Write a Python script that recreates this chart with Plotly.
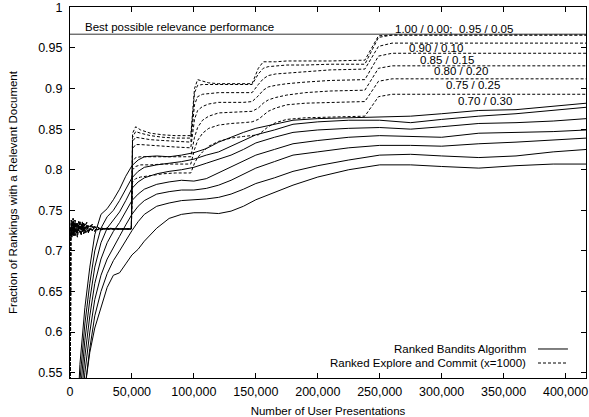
import plotly.graph_objects as go

# ---------------- data ----------------
X_TICKS = [0, 50000, 100000, 150000, 200000, 250000, 300000, 350000, 400000]
X_TICK_LABELS = ["0", "50,000", "100,000", "150,000", "200,000", "250,000", "300,000", "350,000", "400,000"]
Y_TICKS = [0.55, 0.6, 0.65, 0.7, 0.75, 0.8, 0.85, 0.9, 0.95, 1.0]
Y_TICK_LABELS = ["0.55", "0.6", "0.65", "0.7", "0.75", "0.8", "0.85", "0.9", "0.95", "1"]

BEST_POSSIBLE = 0.967

# Ranked Bandits Algorithm (solid lines)
RBA_X = [0, 8000, 12000, 16000, 20000, 25000, 30000, 35000, 40000, 45000, 50000, 55000, 60000,
         70000, 80000, 90000, 100000, 110000, 120000, 130000, 140000, 150000, 165000, 180000,
         200000, 225000, 250000, 275000, 300000, 330000, 360000, 390000, 417000]
RBA_100 = [0.30, 0.56, 0.63, 0.68, 0.72, 0.745, 0.752, 0.763, 0.776, 0.792, 0.805, 0.812, 0.816, 0.817, 0.816, 0.818, 0.821, 0.826, 0.834, 0.840, 0.846, 0.851, 0.856, 0.861, 0.863, 0.864, 0.865, 0.866, 0.869, 0.873, 0.874, 0.878, 0.882]
RBA_095 = [0.28, 0.54, 0.61, 0.66, 0.70, 0.728, 0.742, 0.750, 0.762, 0.777, 0.790, 0.798, 0.803, 0.806, 0.808, 0.810, 0.813, 0.818, 0.822, 0.829, 0.836, 0.843, 0.849, 0.856, 0.859, 0.861, 0.861, 0.858, 0.862, 0.866, 0.869, 0.873, 0.877]
RBA_090 = [0.26, 0.52, 0.59, 0.64, 0.68, 0.71, 0.728, 0.738, 0.748, 0.762, 0.777, 0.785, 0.790, 0.795, 0.798, 0.800, 0.803, 0.808, 0.813, 0.818, 0.825, 0.833, 0.840, 0.846, 0.849, 0.851, 0.852, 0.850, 0.853, 0.857, 0.858, 0.860, 0.863]
RBA_085 = [0.24, 0.50, 0.57, 0.62, 0.66, 0.69, 0.71, 0.724, 0.735, 0.748, 0.762, 0.770, 0.776, 0.782, 0.785, 0.787, 0.786, 0.789, 0.796, 0.803, 0.810, 0.818, 0.825, 0.832, 0.836, 0.840, 0.842, 0.841, 0.840, 0.845, 0.846, 0.847, 0.849]
RBA_080 = [0.22, 0.48, 0.55, 0.60, 0.64, 0.67, 0.69, 0.705, 0.718, 0.732, 0.745, 0.755, 0.762, 0.770, 0.773, 0.775, 0.775, 0.777, 0.781, 0.787, 0.794, 0.802, 0.810, 0.818, 0.822, 0.827, 0.830, 0.830, 0.829, 0.832, 0.834, 0.837, 0.839]
RBA_075 = [0.20, 0.46, 0.53, 0.58, 0.62, 0.65, 0.672, 0.688, 0.700, 0.713, 0.725, 0.736, 0.745, 0.755, 0.759, 0.762, 0.763, 0.764, 0.766, 0.770, 0.776, 0.783, 0.790, 0.798, 0.805, 0.812, 0.818, 0.819, 0.817, 0.815, 0.817, 0.822, 0.825]
RBA_070 = [0.18, 0.44, 0.53, 0.575, 0.605, 0.63, 0.655, 0.670, 0.673, 0.684, 0.695, 0.702, 0.712, 0.728, 0.740, 0.745, 0.747, 0.747, 0.746, 0.749, 0.755, 0.763, 0.772, 0.781, 0.791, 0.800, 0.806, 0.806, 0.804, 0.802, 0.805, 0.807, 0.807]

# Ranked Explore and Commit (x=1000) (dashed lines)
EC_X_EARLY = [0, 300, 600, 1000, 1500, 2000, 2500, 3000, 3500, 4000, 5000, 6000, 7000, 8000, 9000,
              10000, 11000, 12000, 13500, 15000, 16500, 18000, 20000, 22000, 25000, 30000, 40000, 49500]
EC_EARLY_A = [0.30, 0.700, 0.718, 0.731, 0.722, 0.736, 0.719, 0.733, 0.725, 0.738, 0.721, 0.734, 0.724, 0.737,
              0.722, 0.732, 0.725, 0.733, 0.723, 0.731, 0.726, 0.730, 0.725, 0.729, 0.727, 0.727, 0.727, 0.727]
EC_EARLY_B = [0.30, 0.706, 0.729, 0.716, 0.735, 0.720, 0.737, 0.721, 0.734, 0.719, 0.735, 0.722, 0.736, 0.723,
              0.733, 0.724, 0.734, 0.722, 0.732, 0.724, 0.731, 0.725, 0.730, 0.726, 0.728, 0.727, 0.727, 0.727]
EC_EARLY_C = [0.30, 0.712, 0.722, 0.738, 0.717, 0.729, 0.740, 0.718, 0.727, 0.735, 0.726, 0.717, 0.731, 0.728,
              0.719, 0.736, 0.721, 0.730, 0.735, 0.722, 0.728, 0.733, 0.724, 0.730, 0.726, 0.728, 0.727, 0.727]

EC_X_LATE = [50500, 53000, 57000, 65000, 75000, 85000, 97500,
             100500, 103000, 107000, 112000, 120000, 130000, 140000, 147000,
             152000, 156000, 160000, 166000, 175000, 190000, 210000, 238000,
             249000, 260000, 300000, 350000, 417000]
EC_100 = [0.845, 0.853, 0.849, 0.845, 0.843, 0.842, 0.842,
          0.900, 0.911, 0.909, 0.907, 0.906, 0.906, 0.906, 0.906,
          0.925, 0.933, 0.933, 0.933, 0.934, 0.934, 0.934, 0.935,
          0.965, 0.966, 0.966, 0.966, 0.966]
EC_095 = [0.840, 0.847, 0.845, 0.842, 0.840, 0.839, 0.839,
          0.895, 0.904, 0.905, 0.905, 0.905, 0.905, 0.905, 0.905,
          0.918, 0.925, 0.927, 0.928, 0.929, 0.929, 0.930, 0.930,
          0.963, 0.966, 0.966, 0.966, 0.966]
EC_090 = [0.835, 0.840, 0.839, 0.837, 0.836, 0.835, 0.834,
          0.880, 0.890, 0.893, 0.894, 0.895, 0.895, 0.895, 0.895,
          0.905, 0.912, 0.916, 0.918, 0.919, 0.921, 0.923, 0.924,
          0.952, 0.956, 0.956, 0.956, 0.956]
EC_085 = [0.826, 0.831, 0.831, 0.830, 0.829, 0.828, 0.827,
          0.862, 0.873, 0.878, 0.881, 0.883, 0.883, 0.883, 0.884,
          0.891, 0.898, 0.902, 0.904, 0.906, 0.908, 0.910, 0.911,
          0.940, 0.9435, 0.9435, 0.9435, 0.9435]
EC_080 = [0.810, 0.815, 0.816, 0.816, 0.816, 0.816, 0.816,
          0.840, 0.852, 0.861, 0.866, 0.870, 0.871, 0.872, 0.872,
          0.876, 0.882, 0.886, 0.889, 0.892, 0.895, 0.897, 0.898,
          0.925, 0.928, 0.928, 0.928, 0.928]
EC_075 = [0.800, 0.804, 0.806, 0.806, 0.807, 0.807, 0.807,
          0.825, 0.836, 0.845, 0.851, 0.855, 0.857, 0.858, 0.859,
          0.862, 0.867, 0.872, 0.876, 0.880, 0.882, 0.883, 0.884,
          0.909, 0.912, 0.912, 0.912, 0.912]
EC_070 = [0.785, 0.789, 0.791, 0.793, 0.795, 0.796, 0.796,
          0.808, 0.815, 0.822, 0.829, 0.835, 0.839, 0.841, 0.842,
          0.843, 0.848, 0.853, 0.858, 0.862, 0.864, 0.865, 0.866,
          0.890, 0.893, 0.893, 0.893, 0.893]

# curve labels: text, x (left edge), y (centre)
CURVE_LABELS = ["1.00 / 0.00;  0.95 / 0.05", "0.90 / 0.10", "0.85 / 0.15",
                "0.80 / 0.20", "0.75 / 0.25", "0.70 / 0.30"]
CURVE_LABEL_X = [260500, 272000, 281000, 292000, 302000, 311500]
CURVE_LABEL_Y = [0.9734, 0.9504, 0.9352, 0.9217, 0.9044, 0.8847]

LEGEND_NAMES = ["Ranked Bandits Algorithm", "Ranked Explore and Commit (x=1000)"]

X_RANGE = [0, 416500]
Y_RANGE = [0.5434, 1.0005]

FONT = "Liberation Sans, Arial, Helvetica, sans-serif"
TXT = 11.5
TICK_TXT = 12.5

# ---------------- figure ----------------
fig = go.Figure()

rba_series = [RBA_100, RBA_095, RBA_090, RBA_085, RBA_080, RBA_075, RBA_070]
for ys in rba_series:
    fig.add_trace(go.Scatter(x=RBA_X, y=ys, mode="lines",
                             line=dict(color="black", width=1),
                             name=LEGEND_NAMES[0], hoverinfo="skip"))

ec_series = [EC_100, EC_095, EC_090, EC_085, EC_080, EC_075, EC_070]
ec_early = [EC_EARLY_A, EC_EARLY_B, EC_EARLY_C, EC_EARLY_A, EC_EARLY_B, EC_EARLY_C, EC_EARLY_B]
for early, late in zip(ec_early, ec_series):
    fig.add_trace(go.Scatter(x=EC_X_EARLY + EC_X_LATE, y=early + late, mode="lines",
                             line=dict(color="black", width=1, dash="3px,2px"),
                             name=LEGEND_NAMES[1], hoverinfo="skip"))

# best possible line
fig.add_shape(type="line", xref="paper", yref="y", x0=0, x1=1,
              y0=BEST_POSSIBLE, y1=BEST_POSSIBLE,
              line=dict(color="#333333", width=1))
fig.add_annotation(x=10400, y=0.9759, xref="x", yref="y",
                   text="Best possible relevance performance", showarrow=False,
                   xanchor="left", yanchor="middle",
                   font=dict(family=FONT, size=TXT, color="black"))

for t, lx, ly in zip(CURVE_LABELS, CURVE_LABEL_X, CURVE_LABEL_Y):
    fig.add_annotation(x=lx, y=ly, xref="x", yref="y", text=t, showarrow=False,
                       xanchor="left", yanchor="middle",
                       font=dict(family=FONT, size=TXT, color="black"))

# legend (text left of the sample, gnuplot style)
legend_rows_y = [0.0782, 0.0404]
legend_dash = ["solid", "3px,2px"]
for name, yy, dsh in zip(LEGEND_NAMES, legend_rows_y, legend_dash):
    fig.add_annotation(x=0.8876, y=yy, xref="paper", yref="paper", text=name,
                       showarrow=False, xanchor="right", yanchor="middle",
                       font=dict(family=FONT, size=TXT, color="black"))
    fig.add_shape(type="line", xref="paper", yref="paper", x0=0.907, x1=0.965,
                  y0=yy, y1=yy, line=dict(color="black", width=1, dash=dsh))

axis_common = dict(showline=True, linecolor="black", linewidth=1, mirror="allticks",
                   ticks="inside", ticklen=5, tickcolor="black", tickwidth=1,
                   showgrid=False, zeroline=False, automargin=False,
                   ticklabeloverflow="allow",
                   tickfont=dict(family=FONT, size=TICK_TXT, color="black"))

fig.update_xaxes(range=X_RANGE, tickvals=X_TICKS, ticktext=X_TICK_LABELS,
                 ticklabelstandoff=2,
                 title=dict(text="Number of User Presentations", standoff=9,
                            font=dict(family=FONT, size=TXT, color="black")),
                 **axis_common)
fig.update_yaxes(range=Y_RANGE, tickvals=Y_TICKS, ticktext=Y_TICK_LABELS,
                 ticklabelstandoff=4,
                 title=dict(text="Fraction of Rankings with a Relevant Document", standoff=18,
                            font=dict(family=FONT, size=TXT, color="black")),
                 **axis_common)

fig.update_layout(width=589, height=417,
                  margin=dict(l=70, r=3, t=7, b=39),
                  plot_bgcolor="white", paper_bgcolor="white",
                  showlegend=False,
                  font=dict(family=FONT, size=TXT, color="black"))

# the page's default 8px body margin would shift the figure; remove it
fig.write_html("out.html", config={"displayModeBar": False},
               post_script="document.body.style.margin='0px';")
